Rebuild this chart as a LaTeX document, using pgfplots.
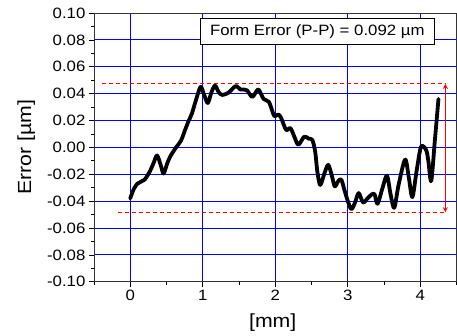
\documentclass[border=0pt]{standalone}
\usepackage{fontspec}
\setmainfont[FakeStretch=1.12]{Liberation Sans}
\usepackage{pgfplots}
\pgfplotsset{compat=1.18}
\begin{document}
\begin{tikzpicture}
\begin{axis}[
  scale only axis, width=363pt, height=269pt,
  xmin=-0.5, xmax=4.5, ymin=-0.1, ymax=0.1,
  xtick={0,1,2,3,4}, minor xtick={-0.5,0.5,1.5,2.5,3.5,4.5},
  ytick={-0.1,-0.08,-0.06,-0.04,-0.02,0,0.02,0.04,0.06,0.08,0.1},
  minor ytick={-0.09,-0.07,-0.05,-0.03,-0.01,0.01,0.03,0.05,0.07,0.09},
  tick align=outside, tick pos=left,
  major tick length=5pt, minor tick length=3pt,
  xmajorgrids, ymajorgrids,
  major grid style={blue, line width=0.8pt},
  tick style={black, line width=0.7pt},
  axis line style={black!80, line width=0.8pt},
  /pgf/number format/assume math mode=true,
  yticklabel style={/pgf/number format/.cd, fixed, fixed zerofill, precision=2},
  xticklabel style={/pgf/number format/.cd, fixed, precision=0},
  ticklabel style={font=\fontsize{15}{18}\selectfont},
  xlabel={[mm]}, ylabel={Error [\textmu m]},
  label style={font=\fontsize{19}{22}\selectfont},
  xlabel style={at={(axis description cs:0.493,-0.152)}, anchor=center},
  ylabel style={at={(axis description cs:-0.187,0.5)}, anchor=center, rotate=0},
]
\addplot[red, line width=1.3pt, dash pattern=on 4.5pt off 2.5pt] coordinates {(-0.39,0.0473) (4.35,0.0473)};
\addplot[red, line width=1.3pt, dash pattern=on 4.5pt off 2.5pt] coordinates {(-0.17,-0.0483) (4.35,-0.0483)};
\addplot[red, line width=1.3pt, <->, >=stealth] coordinates {(4.345,0.0473) (4.345,-0.0483)};
\addplot[black, line width=3.8pt, smooth, tension=0.5, line join=round, line cap=round] coordinates {
(0.00,-0.038) (0.05,-0.031) (0.10,-0.027) (0.15,-0.0255) (0.20,-0.024)
(0.27,-0.018) (0.32,-0.012) (0.37,-0.006) (0.42,-0.013) (0.46,-0.0195)
(0.51,-0.012) (0.55,-0.007) (0.62,-0.001) (0.70,0.005) (0.75,0.012)
(0.80,0.019) (0.85,0.025) (0.90,0.034) (0.97,0.045) (1.02,0.039)
(1.07,0.033) (1.12,0.041) (1.17,0.046) (1.22,0.041) (1.27,0.039)
(1.35,0.0405) (1.40,0.043) (1.46,0.0458) (1.52,0.043) (1.57,0.043)
(1.61,0.0425) (1.68,0.0375) (1.72,0.040) (1.77,0.043) (1.84,0.036)
(1.91,0.034) (1.96,0.027) (1.99,0.023) (2.04,0.0245) (2.08,0.022)
(2.15,0.013) (2.21,0.0143) (2.27,0.007) (2.32,0.002) (2.40,0.008)
(2.46,0.0065) (2.51,0.0056) (2.55,-0.003) (2.58,-0.018) (2.62,-0.028)
(2.68,-0.019) (2.73,-0.013) (2.78,-0.021) (2.82,-0.029) (2.87,-0.025)
(2.91,-0.024) (2.95,-0.031) (3.00,-0.040) (3.05,-0.046) (3.10,-0.041)
(3.15,-0.034) (3.21,-0.041) (3.27,-0.038) (3.33,-0.035) (3.37,-0.035)
(3.41,-0.042) (3.48,-0.030) (3.54,-0.021) (3.59,-0.035) (3.64,-0.045)
(3.70,-0.028) (3.79,-0.009) (3.84,-0.022) (3.89,-0.037) (3.95,-0.017)
(4.01,0.0005) (4.08,-0.002) (4.11,-0.010) (4.15,-0.025) (4.20,0.005)
(4.25,0.036)
};
\node[draw=black, line width=0.7pt, fill=white, inner sep=0pt, minimum width=235pt, minimum height=26.7pt, font=\fontsize{15}{18}\selectfont] at (axis cs:2.58,0.0863) {Form Error (P-P) = 0.092 \textmu m};
\end{axis}
\path (current axis.south west) ++(-94pt,-54pt) coordinate (bbA);
\path (current axis.north east) ++(0pt,13pt) coordinate (bbB);
\path (bbA) rectangle (bbB);
\end{tikzpicture}
\end{document}
